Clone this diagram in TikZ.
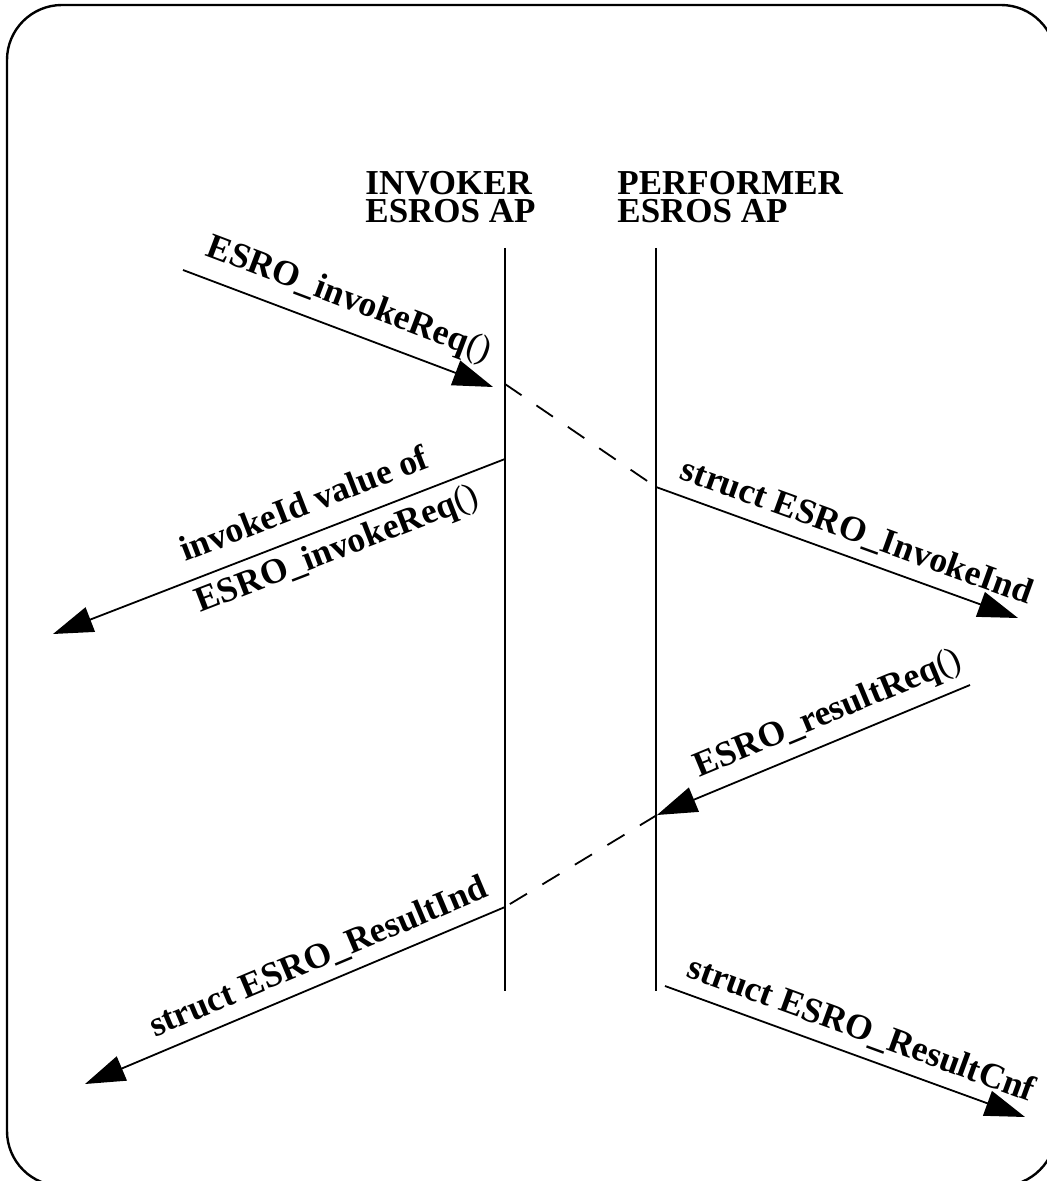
\documentclass[tikz,border=0pt]{standalone}
\usepackage{fontspec}
\setmainfont{Liberation Serif}
\usetikzlibrary{arrows.meta}

\begin{document}
\begin{tikzpicture}[x=0.5pt,y=-0.5pt,
    msg/.style={-{Triangle[length=20pt,width=13pt]}, line width=0.9pt},
    lbl/.style={font=\fontsize{17.8}{14}\selectfont\bfseries, sloped, inner sep=2pt},
    back/.style={dash pattern=on 10pt off 9pt, line width=0.9pt}]
\useasboundingbox (0,0) rectangle (1047,1181);
\draw[line width=1.2pt, rounded corners=27.5pt] (7,5) rectangle (1056,1186);

% the two APs and their lifelines
\foreach \n/\x/\hx/\t in {inv/505/365/INVOKER,perf/656/617/PERFORMER} {
    \node[font=\fontsize{17.5}{14}\selectfont\bfseries, align=left,
          anchor=north west, inner sep=0pt] (\n-head) at (\hx,171) {\t\\ESROS AP};
    \coordinate (\n-top) at (\x,248);
    \coordinate (\n-bot) at (\x,991);
    \draw[line width=0.9pt] (\n-top) -- (\n-bot);
}

\coordinate (req-s) at (183,270);
\coordinate (req-e) at (493,387);
\coordinate (inv-a) at (505,384);
\coordinate (perf-a) at (656,487);
\coordinate (ind-e) at (1018,618);
\coordinate (inv-b) at (505,459);
\coordinate (id-e) at (53,634);
\coordinate (res-s) at (970,685);
\coordinate (perf-b) at (657,815);
\coordinate (inv-c) at (505,907);
\coordinate (rind-e) at (85,1084);
\coordinate (cnf-s) at (665,986);
\coordinate (cnf-e) at (1025,1117);

\draw[msg] (req-s) -- node[lbl, above=4.5pt, pos=0.5] (req-l) {ESRO\_invokeReq{\mdseries()}} (req-e);
\draw[back] (inv-a) -- (perf-a);
\draw[msg] (perf-a) -- node[lbl, above=3pt, pos=0.53] (ind-l) {struct ESRO\_InvokeInd} (ind-e);
\draw[msg] (inv-b) -- node[lbl, above=7pt, pos=0.42] (id-l1) {invokeId value of}
                      node[lbl, below=2pt, pos=0.39] (id-l2) {ESRO\_invokeReq{\mdseries()}} (id-e);

\draw[msg] (res-s) -- node[lbl, above=3pt, pos=0.42] (res-l) {ESRO\_resultReq{\mdseries()}} (perf-b);
\draw[back] (perf-b) -- (inv-c);
\draw[msg] (inv-c) -- node[lbl, above=3pt, pos=0.42] (rind-l) {struct ESRO\_ResultInd} (rind-e);
\draw[msg] (cnf-s) -- node[lbl, above=3pt, pos=0.52] (cnf-l) {struct ESRO\_ResultCnf} (cnf-e);
\end{tikzpicture}
\end{document}
